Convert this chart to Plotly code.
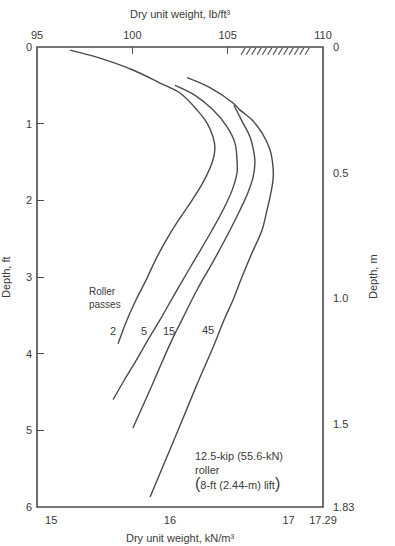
import numpy as np
import plotly.graph_objects as go

# ---- data (dry unit weight in lb/ft^3, depth in ft) ----
passes = ["2", "5", "15", "45"]

pcf_2 = [96.73, 98.30, 100.03, 101.45, 102.50, 103.39, 103.91, 104.23, 104.33, 104.18,
         103.70, 103.13, 102.50, 101.87, 101.29, 100.72, 100.19, 99.72, 99.25]
ft_2 = [0.04, 0.145, 0.30, 0.47, 0.60, 0.82, 0.99, 1.17, 1.32, 1.51,
        1.77, 2.00, 2.23, 2.48, 2.74, 3.04, 3.30, 3.56, 3.87]

pcf_5 = [102.24, 103.29, 104.23, 104.96, 105.38, 105.49, 105.49, 105.23, 104.75, 104.18,
         103.26, 102.34, 101.45, 100.82, 100.22, 99.59, 98.99]
ft_5 = [0.50, 0.63, 0.82, 1.04, 1.25, 1.47, 1.64, 1.87, 2.13, 2.39,
        2.78, 3.17, 3.56, 3.82, 4.08, 4.34, 4.60]

pcf_15 = [105.33, 105.80, 106.17, 106.38, 106.43, 106.33, 106.06, 105.64, 105.12, 104.28,
          103.39, 102.60, 102.08, 101.61, 100.93, 100.03]
ft_15 = [0.76, 0.99, 1.17, 1.38, 1.51, 1.70, 1.90, 2.13, 2.39, 2.78,
         3.17, 3.56, 3.82, 4.08, 4.47, 4.97]

pcf_45 = [102.87, 104.07, 105.28, 105.64, 106.27, 106.80, 107.22, 107.38, 107.38, 107.22,
          107.06, 106.80, 106.27, 105.75, 105.28, 104.81, 104.28, 103.34, 102.13, 100.93]
ft_45 = [0.40, 0.53, 0.73, 0.82, 0.95, 1.12, 1.34, 1.57, 1.73, 1.96,
         2.13, 2.39, 2.69, 3.00, 3.30, 3.56, 3.89, 4.43, 5.16, 5.87]

# label positions for pass counts (pcf, ft)
label_pcf = [99.0, 100.6, 101.9, 103.95]
label_ft = [3.70, 3.70, 3.70, 3.69]

top_ticks = [95, 100, 105, 110]
bottom_ticks = [15, 16, 17, 17.29]
bottom_ticktext = ["15", "16", "17", "17.29"]
left_ticks = [0, 1, 2, 3, 4, 5, 6]
right_ticks = [0, 0.5, 1.0, 1.5, 1.83]
right_ticktext = ["0", "0.5", "1.0", "1.5", "1.83"]

LINE = "#4a4a4a"
TXT = "#3a3a3a"
FONT = "Liberation Sans, Arial, sans-serif"

fig = go.Figure()

for px_, fy in [(pcf_2, ft_2), (pcf_5, ft_5), (pcf_15, ft_15), (pcf_45, ft_45)]:
    fig.add_trace(go.Scatter(x=px_, y=fy, xaxis="x2", yaxis="y", mode="lines",
                             line=dict(color=LINE, width=1.4, shape="spline", smoothing=1.0),
                             hoverinfo="skip", showlegend=False))

# invisible trace to anchor the SI axes
fig.add_trace(go.Scatter(x=[bottom_ticks[0], bottom_ticks[-1]], y=[right_ticks[0], right_ticks[-1]],
                         xaxis="x", yaxis="y2", mode="markers", marker=dict(opacity=0),
                         hoverinfo="skip", showlegend=False))

# pass labels
for t, xx, yy in zip(passes, label_pcf, label_ft):
    fig.add_annotation(x=xx, y=yy, xref="x2", yref="y", text=t, showarrow=False,
                       font=dict(size=11, color=TXT, family=FONT), xanchor="center", yanchor="middle")

fig.add_annotation(x=0.238, y=0.454, xref="paper", yref="paper",
                   text="Roller<br>passes", align="left", showarrow=False,
                   font=dict(size=10, color=TXT, family=FONT), xanchor="center", yanchor="middle")

fig.add_annotation(x=0.545, y=0.078, xref="paper", yref="paper",
                   text="12.5-kip (55.6-kN)<br>roller<br><span style='font-size:16px'>(</span>8-ft (2.44-m) lift<span style='font-size:16px'>)</span>",
                   align="left", showarrow=False,
                   font=dict(size=11, color=TXT, family=FONT), xanchor="left", yanchor="middle")

# axis titles
fig.add_annotation(x=0.5, y=1, xref="paper", yref="paper", yshift=25,
                   text="Dry unit weight, lb/ft³", showarrow=False,
                   font=dict(size=11, color=TXT, family=FONT), yanchor="bottom")
fig.add_annotation(x=0.5, y=0, xref="paper", yref="paper", yshift=-23,
                   text="Dry unit weight, kN/m³", showarrow=False,
                   font=dict(size=11, color=TXT, family=FONT), yanchor="top")
fig.add_annotation(x=0, y=0.5, xref="paper", yref="paper", xshift=-31,
                   text="Depth, ft", textangle=-90, showarrow=False,
                   font=dict(size=11, color=TXT, family=FONT), xanchor="center")
fig.add_annotation(x=1, y=0.5, xref="paper", yref="paper", xshift=50,
                   text="Depth, m", textangle=-90, showarrow=False,
                   font=dict(size=11, color=TXT, family=FONT), xanchor="center")

# frame
fig.add_shape(type="rect", xref="paper", yref="paper", x0=0, y0=0, x1=1, y1=1,
              line=dict(color=LINE, width=1.6))

# hatched surface marks under the top axis
for xs in np.arange(105.7, 109.3, 0.28):
    fig.add_shape(type="line", xref="x2", yref="y", x0=xs, y0=0.1, x1=xs + 0.22, y1=0.01,
                  line=dict(color=LINE, width=1.1))

tickfont = dict(size=11, color=TXT, family=FONT)
common = dict(ticks="inside", ticklen=7, tickcolor=LINE, tickwidth=1.2,
              showgrid=False, zeroline=False, showline=False, tickfont=tickfont)
fig.update_layout(
    width=395, height=546,
    margin=dict(l=37, r=72, t=47, b=39),
    paper_bgcolor="white", plot_bgcolor="white",
    xaxis=dict(range=[14.88, 17.29], tickvals=bottom_ticks, ticktext=bottom_ticktext,
               anchor="y", ticklabelstandoff=5, **common),
    xaxis2=dict(range=[95, 110], tickvals=top_ticks, overlaying="x", side="top",
                anchor="y", ticklabelstandoff=5, **common),
    yaxis=dict(range=[6, 0], tickvals=left_ticks, ticklabelstandoff=4, **common),
    yaxis2=dict(range=[1.83, 0], tickvals=right_ticks, ticktext=right_ticktext,
                overlaying="y", side="right", anchor="x", ticklabelstandoff=9, **common),
)

fig.write_html("out.html")
